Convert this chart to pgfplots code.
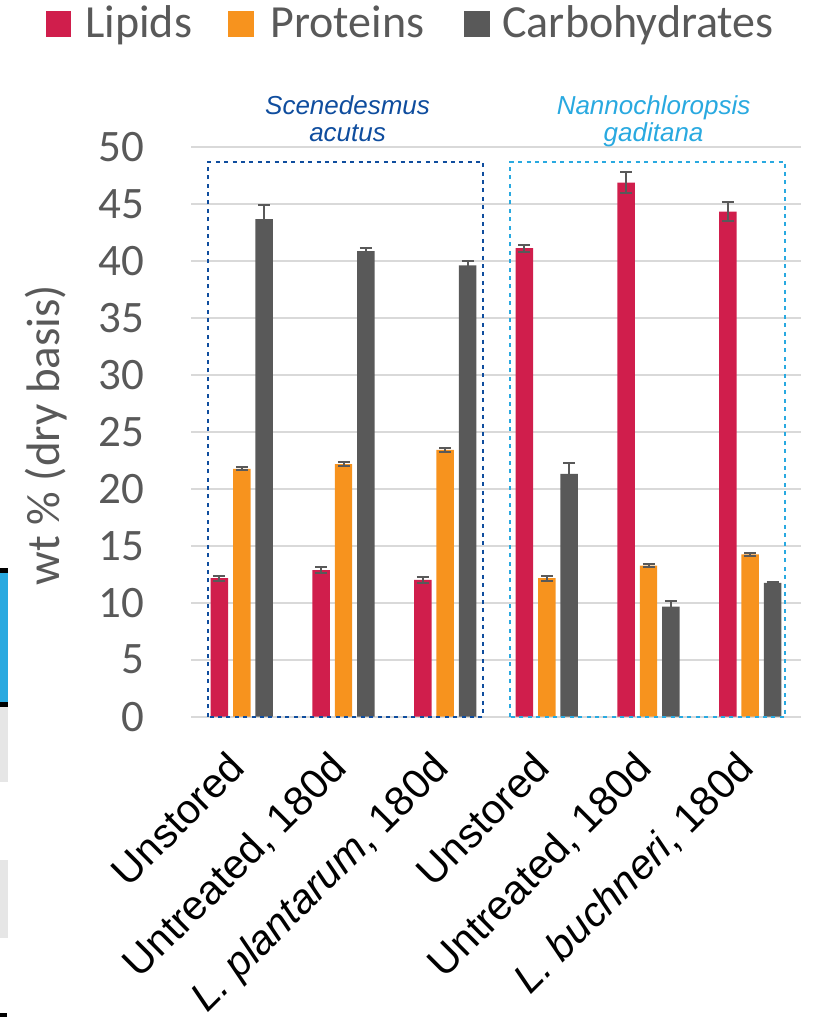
\documentclass[border=0pt]{standalone}
\usepackage{fontspec}
\setmainfont{Carlito}
\newfontfamily\arial{Liberation Sans}
\usepackage{pgfplots}
\pgfplotsset{compat=1.18}
\usepackage{pgfplotstable}
\definecolor{lip}{HTML}{D01E4C}
\definecolor{pro}{HTML}{F7931E}
\definecolor{carb}{HTML}{595959}
\definecolor{dblue}{HTML}{0F4D9E}
\definecolor{lblue}{HTML}{29A9E0}
\definecolor{txt}{HTML}{595959}
\definecolor{gridc}{HTML}{D9D9D9}
\definecolor{artgray}{HTML}{E6E6E6}

\pgfplotstableread{
x y e
0 12.15 0.22
1 12.85 0.25
2 12.0 0.25
3 41.1 0.3
4 46.85 0.9
5 44.3 0.85
}\lipids
\pgfplotstableread{
x y e
0 21.75 0.12
1 22.15 0.15
2 23.4 0.2
3 12.15 0.22
4 13.25 0.12
5 14.25 0.12
}\proteins
\pgfplotstableread{
x y e
0 43.65 1.2
1 40.85 0.25
2 39.6 0.38
3 21.3 0.96
4 9.65 0.5
5 11.75 0.1
}\carbs

\begin{document}
\begin{tikzpicture}
\path[use as bounding box] (0,0) rectangle (407.5pt,-513.5pt);
\begin{axis}[
  at={(95.5pt,-358.35pt)}, anchor=south west,
  width=305pt, height=285pt, scale only axis,
  xmin=-0.5, xmax=5.5, ymin=0, ymax=50,
  ytick={0,5,...,50},
  xtick={0,1,2,3,4,5},
  xticklabels={Unstored, {Untreated, 180d}, {\textit{L. plantarum}, 180d\hspace{4pt}}, Unstored, {Untreated, 180d}, {\textit{L. buchneri}, 180d}},
  ymajorgrids, grid style={draw=gridc, line width=0.8pt},
  axis line style={draw=none}, tick style={draw=none},
  /pgf/number format/assume math mode=true,
  yticklabel style={font=\fontsize{22.5}{22.5}\selectfont, text=txt, anchor=east, inner sep=0pt, xshift=-23pt},
  xticklabel style={font=\arial\fontsize{20.6}{20.6}\selectfont, text=black, rotate=45, anchor=north east, inner sep=0pt, yshift=-2.7pt, xshift=-13.9pt},
  ylabel={wt \% (dry basis)},
  every axis y label/.style={at={(axis description cs:-0.2377,0.494)}, rotate=90, anchor=center, font=\fontsize{23.5}{23.5}\selectfont, text=txt},
  ybar, bar width=0.172,
  clip=false,
  error bars/error bar style={draw=carb, line width=1pt},
  error bars/error mark options={draw=carb, rotate=90, mark size=3pt, line width=1pt},
]
\draw[gridc, line width=1pt] (axis cs:-0.5,0) -- (axis cs:5.5,0);
\addplot[fill=lip, draw=none, bar shift=-0.22, error bars/.cd, y dir=both, y explicit] table[x=x, y=y, y error=e] {\lipids};
\addplot[fill=pro, draw=none, bar shift=0, error bars/.cd, y dir=both, y explicit] table[x=x, y=y, y error=e] {\proteins};
\addplot[fill=carb, draw=none, bar shift=0.22, error bars/.cd, y dir=both, y explicit] table[x=x, y=y, y error=e] {\carbs};
\draw[dblue, line width=1pt, dash pattern=on 2pt off 2.2pt] (axis cs:-0.336,0) rectangle (axis cs:2.375,48.66);
\draw[lblue, line width=1pt, dash pattern=on 2pt off 2.2pt] (axis cs:2.638,0) rectangle (axis cs:5.345,48.66);
\node[text=dblue, font=\arial\itshape\fontsize{13}{13}\selectfont, anchor=base, inner sep=0pt] at (axis cs:1.04,52.84) {Scenedesmus};
\node[text=dblue, font=\arial\itshape\fontsize{13}{13}\selectfont, anchor=base, inner sep=0pt] at (axis cs:1.04,50.44) {acutus};
\node[text=lblue, font=\arial\itshape\fontsize{13}{13}\selectfont, anchor=base, inner sep=0pt] at (axis cs:4.05,52.84) {Nannochloropsis};
\node[text=lblue, font=\arial\itshape\fontsize{13}{13}\selectfont, anchor=base, inner sep=0pt] at (axis cs:4.05,50.44) {gaditana};
\end{axis}
\begin{scope}[x=0.5pt, y=-0.5pt]
  % legend
  \fill[lip] (46,11) rectangle (71,37);
  \node[anchor=base west, inner sep=0pt, text=txt, font=\fontsize{23}{23}\selectfont] at (85,37.7) {Lipids};
  \fill[pro] (228,11) rectangle (254,37);
  \node[anchor=base west, inner sep=0pt, text=txt, font=\fontsize{23}{23}\selectfont] at (270,37.7) {Proteins};
  \fill[carb] (464,11) rectangle (490,37);
  \node[anchor=base west, inner sep=0pt, text=txt, font=\fontsize{23}{23}\selectfont] at (502,37.7) {Carbohydrates};
  % fragments of a neighbouring panel at the left edge
  \fill[lblue] (0,570) rectangle (8,705);
  \fill[black] (0,568) rectangle (8,573);
  \fill[black] (0,702) rectangle (8,707);
  \fill[artgray] (0,707) rectangle (8,782);
  \fill[artgray] (0,860) rectangle (8,938);
  \fill[black] (0,1013) rectangle (7,1017);
\end{scope}
\end{tikzpicture}
\end{document}
